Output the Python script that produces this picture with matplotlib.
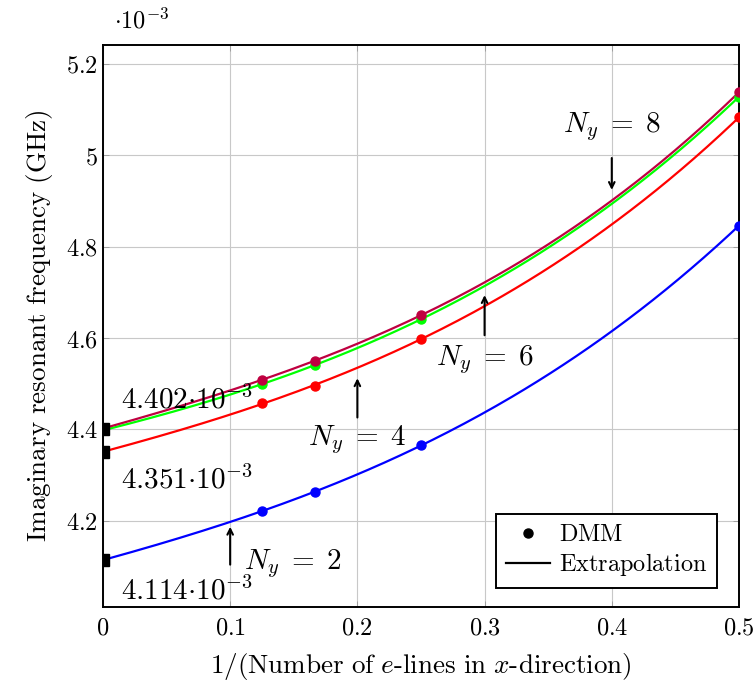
import numpy as np
import matplotlib
matplotlib.use("Agg")
import matplotlib.pyplot as plt
from matplotlib.ticker import FuncFormatter

plt.rcParams["mathtext.fontset"] = "cm"
plt.rcParams["font.family"] = "serif"
plt.rcParams["font.serif"] = ["DejaVu Serif"]

# DMM points: 1/(number of e-lines in x-direction) and frequency (x1e-3 GHz)
x_dmm = [0.125, 1 / 6, 0.25, 0.5]
ny2_dmm = [4.222, 4.263, 4.365, 4.846]
ny4_dmm = [4.457, 4.496, 4.598, 5.083]
ny6_dmm = [4.499, 4.541, 4.641, 5.128]
ny8_dmm = [4.509, 4.550, 4.650, 5.138]

# extrapolated values at x = 0
ny_labels = ["2", "4", "6", "8"]
extrap0 = [4.114, 4.351, 4.398, 4.402]
colors = ["#0000ff", "#ff0000", "#00ff00", "#bf0040"]

series = [ny2_dmm, ny4_dmm, ny6_dmm, ny8_dmm]

fig = plt.figure(figsize=(7.56, 6.83), dpi=100)
ax = fig.add_axes([0.1362, 0.1117, 0.8413, 0.8229])

# extrapolation curves: cubic fit through the x=0 value and the DMM points
xs = np.linspace(0, 0.5, 200)
for y0, ys, c in zip(extrap0, series, colors):
    px = [0.0] + x_dmm
    py = [y0] + ys
    coef = np.polyfit(px, py, 3)
    ax.plot(xs, np.polyval(coef, xs), color=c, lw=1.6, zorder=3)
for ys, c in zip(series, colors):
    ax.plot(x_dmm, ys, "o", color=c, ms=6.5, zorder=4)

# extrapolated limits marked at x = 0
ax.plot([0] * 3, [4.402, 4.351, 4.114], "s", color="black", ms=8,
        zorder=5, clip_on=True)

ax.set_xlim(0, 0.5)
ax.set_ylim(4.012, 5.242)
ax.set_xticks([0, 0.1, 0.2, 0.3, 0.4, 0.5])
ax.set_yticks([4.2, 4.4, 4.6, 4.8, 5.0, 5.2])
ax.xaxis.set_major_formatter(FuncFormatter(lambda v, p: "$%g$" % round(v, 2)))
ax.yaxis.set_major_formatter(FuncFormatter(lambda v, p: "$%g$" % round(v, 2)))
ax.tick_params(direction="in", length=4, width=0.6, labelsize=17.5,
               top=True, right=True, color="#999999")
ax.tick_params(axis="x", pad=7)
ax.grid(True, color="#c8c8c8", lw=0.8)
ax.set_axisbelow(True)
for s in ax.spines.values():
    s.set_linewidth(1.4)

ax.set_xlabel(r"$\mathrm{1/(Number\ of\ }e\mathrm{\text{-}lines\ in\ }x\mathrm{\text{-}direction)}$",
              fontsize=19.5, labelpad=8)
ax.set_ylabel(r"$\mathrm{Imaginary\ resonant\ frequency\ (GHz)}$",
              fontsize=19.5, labelpad=8)
fig.text(0.187, 0.969, r"$\cdot 10^{-3}$", fontsize=17.5, ha="center", va="center")

# value labels
ax.text(0.014, 4.464, r"$4.402{\cdot}10^{-3}$", fontsize=21, va="center", ha="left")
ax.text(0.014, 4.289, r"$4.351{\cdot}10^{-3}$", fontsize=21, va="center", ha="left")
ax.text(0.014, 4.046, r"$4.114{\cdot}10^{-3}$", fontsize=21, va="center", ha="left")

# Ny annotations
arr = dict(arrowstyle="->", color="black", lw=1.5)
ax.annotate("", xy=(0.1, 4.193), xytext=(0.1, 4.098), arrowprops=arr)
ax.text(0.111, 4.107, r"$N_y\;=\;2$", fontsize=21, va="center", ha="left")
ax.annotate("", xy=(0.2, 4.518), xytext=(0.2, 4.42), arrowprops=arr)
ax.text(0.2, 4.378, r"$N_y\;=\;4$", fontsize=21, va="center", ha="center")
ax.annotate("", xy=(0.3, 4.70), xytext=(0.3, 4.60), arrowprops=arr)
ax.text(0.3, 4.553, r"$N_y\;=\;6$", fontsize=21, va="center", ha="center")
ax.annotate("", xy=(0.4, 4.918), xytext=(0.4, 5.0), arrowprops=arr)
ax.text(0.4, 5.062, r"$N_y\;=\;8$", fontsize=21, va="center", ha="center")

# legend
h1, = ax.plot([], [], "o", color="black", ms=6.5)
h2, = ax.plot([], [], "-", color="black", lw=1.6)
leg = ax.legend([h1, h2], [r"$\mathrm{DMM}$", r"$\mathrm{Extrapolation}$"],
                loc="lower right", bbox_to_anchor=(0.985, 0.012),
                fontsize=17.5, fancybox=False, framealpha=1,
                edgecolor="black", handlelength=1.8, borderpad=0.4,
                labelspacing=0.2, handletextpad=0.4)
leg.get_frame().set_linewidth(1.4)

fig.savefig("out.png", dpi=100)
